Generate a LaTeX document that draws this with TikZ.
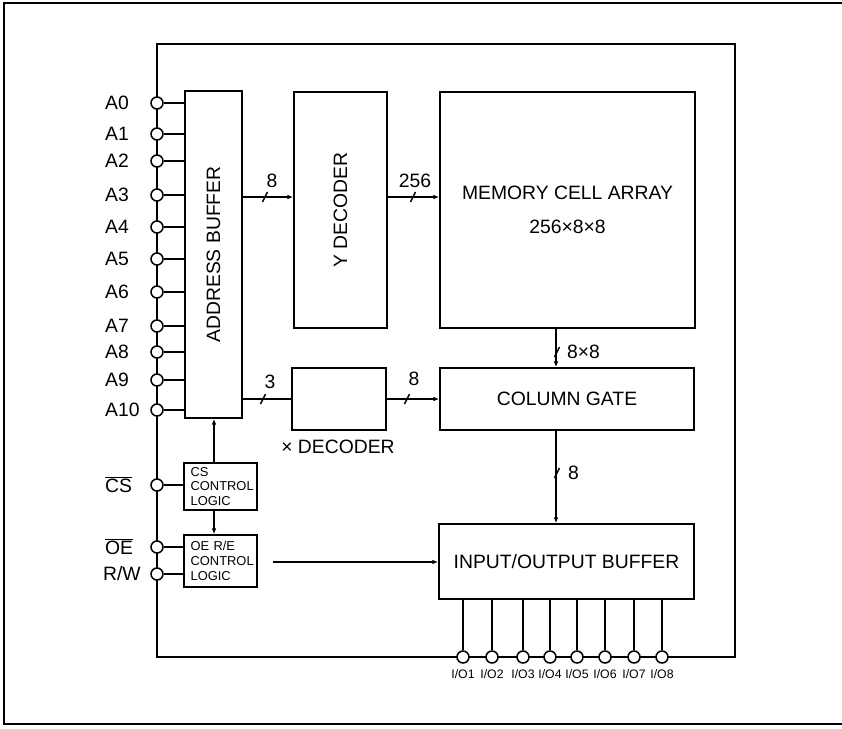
\documentclass[tikz,border=0pt]{standalone}
\usepackage{fontspec}
\setmainfont{Liberation Sans}
\usetikzlibrary{positioning,arrows.meta}

\newcommand{\busslash}[1]{\draw[line width=1.2pt] (#1) ++(-2.5,5) -- ++(5,-10);}

\begin{document}
\begin{tikzpicture}[x=0.03cm, y=-0.03cm, every node/.style={font=\fontsize{16.5}{19}\selectfont}]
    \tikzset{block/.style={rectangle, draw, line width=1.4pt, inner sep=0pt}}
    \tikzset{ctrl/.style={rectangle, draw, line width=1.4pt, text width=1.79cm, inner xsep=0.2cm, align=left, font=\fontsize{11}{12.5}\selectfont}}
    \tikzset{pad/.style={circle, draw, fill=white, minimum size=0.36cm, inner sep=0pt, line width=1.3pt}}
    \tikzset{line/.style={draw, -{Latex[length=5pt, width=4pt]}, line width=1.3pt}}
    \tikzset{wire/.style={draw, line width=1.3pt}}

    \useasboundingbox (0,0) rectangle (842,728);
    \draw[line width=1pt] (842,3) -- (4,3) -- (4,724) -- (842,724);
    \draw[wire] (157,44) rectangle (735,657);

    \node[block, minimum width=1.71cm, minimum height=9.81cm] (abuf) at (213.5,254.5) {\rotatebox{90}{ADDRESS BUFFER}};
    \node[block, minimum width=2.79cm, minimum height=7.08cm] (ydec) at (340.5,210) {\rotatebox{90}{Y DECODER}};
    \node[block, minimum width=7.65cm, minimum height=7.08cm, align=center] (mem) at (567.5,210) {MEMORY CELL ARRAY\\[10pt]256×8×8};
    \node[block, minimum width=2.82cm, minimum height=1.86cm] (xdec) at (339,399) {};
    \node (xlab) at (338,447) {× DECODER};
    \node[block, minimum width=7.62cm, minimum height=1.86cm] (colg) at (567,399) {COLUMN GATE};
    \node[block, minimum width=7.65cm, minimum height=2.25cm] (iobuf) at (566.5,561.5) {INPUT/OUTPUT BUFFER};
    \node[ctrl, minimum height=1.41cm] (cslog) at (220.5,486.5) {CS\\CONTROL\\LOGIC};
    \node[ctrl, minimum height=1.56cm] (oelog) at (220.5,561) {OE R/E\\CONTROL\\LOGIC};

    % address inputs
    \foreach \n/\y in {0/103,1/134,2/161,3/195,4/227,5/259,6/292,7/326,8/352,9/380,10/410} {
        \node[pad] (a\n) at (157,\y) {};
        \node[anchor=west] (la\n) at (101,\y) {A\n};
        \draw[wire] (a\n) -- (abuf.west |- a\n);
    }

    % control inputs
    \node[pad] (cs) at (157,485) {};
    \node[anchor=west] (lcs) at (101,485) {$\overline{\mbox{CS}}$};
    \node[pad] (oe) at (157,547) {};
    \node[anchor=west] (loe) at (101,547) {$\overline{\mbox{OE}}$};
    \node[pad] (rw) at (157,574) {};
    \node[anchor=west] (lrw) at (99,574) {R/W};
    \draw[wire] (cs) -- (cslog.west |- cs);
    \draw[wire] (oe) -- (oelog.west |- oe);
    \draw[wire] (rw) -- (oelog.west |- rw);

    % internal buses
    \coordinate (ybus) at (0,197);
    \coordinate (xbus) at (0,399);
    \coordinate (dbus) at (556,0);
    \coordinate (cbus) at (214,0);
    \coordinate (oeout) at (273,562);
    \path[line] (abuf.east |- ybus) -- (ydec.west |- ybus);
    \path[line] (ydec.east |- ybus) -- (mem.west |- ybus);
    \path[wire] (abuf.east |- xbus) -- (xdec.west);
    \path[line] (xdec.east) -- (colg.west);
    \path[line] (mem.south -| dbus) -- (colg.north -| dbus);
    \path[line] (colg.south -| dbus) -- (iobuf.north -| dbus);
    \path[line] (cslog.north -| cbus) -- (abuf.south -| cbus);
    \path[line] (cslog.south -| cbus) -- (oelog.north -| cbus);
    \path[line] (oeout) -- (iobuf.west |- oeout);

    \busslash{265,197}
    \busslash{413,197}
    \busslash{263,399}
    \busslash{407,399}
    \busslash{557,352}
    \busslash{557,473}
    \node (w1) at (272,181) {8};
    \node (w2) at (415,181) {256};
    \node (w3) at (270,382) {3};
    \node (w4) at (414,379) {8};
    \node[anchor=west] (w5) at (563,352) {8×8};
    \node[anchor=west] (w6) at (564,473) {8};

    % data pins
    \foreach \i/\x in {1/463,2/492,3/523,4/550,5/577,6/605,7/634,8/662} {
        \node[pad] (io\i) at (\x,657) {};
        \node[font=\fontsize{10.5}{12}\selectfont, inner sep=0pt] (lio\i) at (\x,674) {I/O\i};
        \draw[wire] (iobuf.south -| io\i) -- (io\i);
    }
\end{tikzpicture}
\end{document}
